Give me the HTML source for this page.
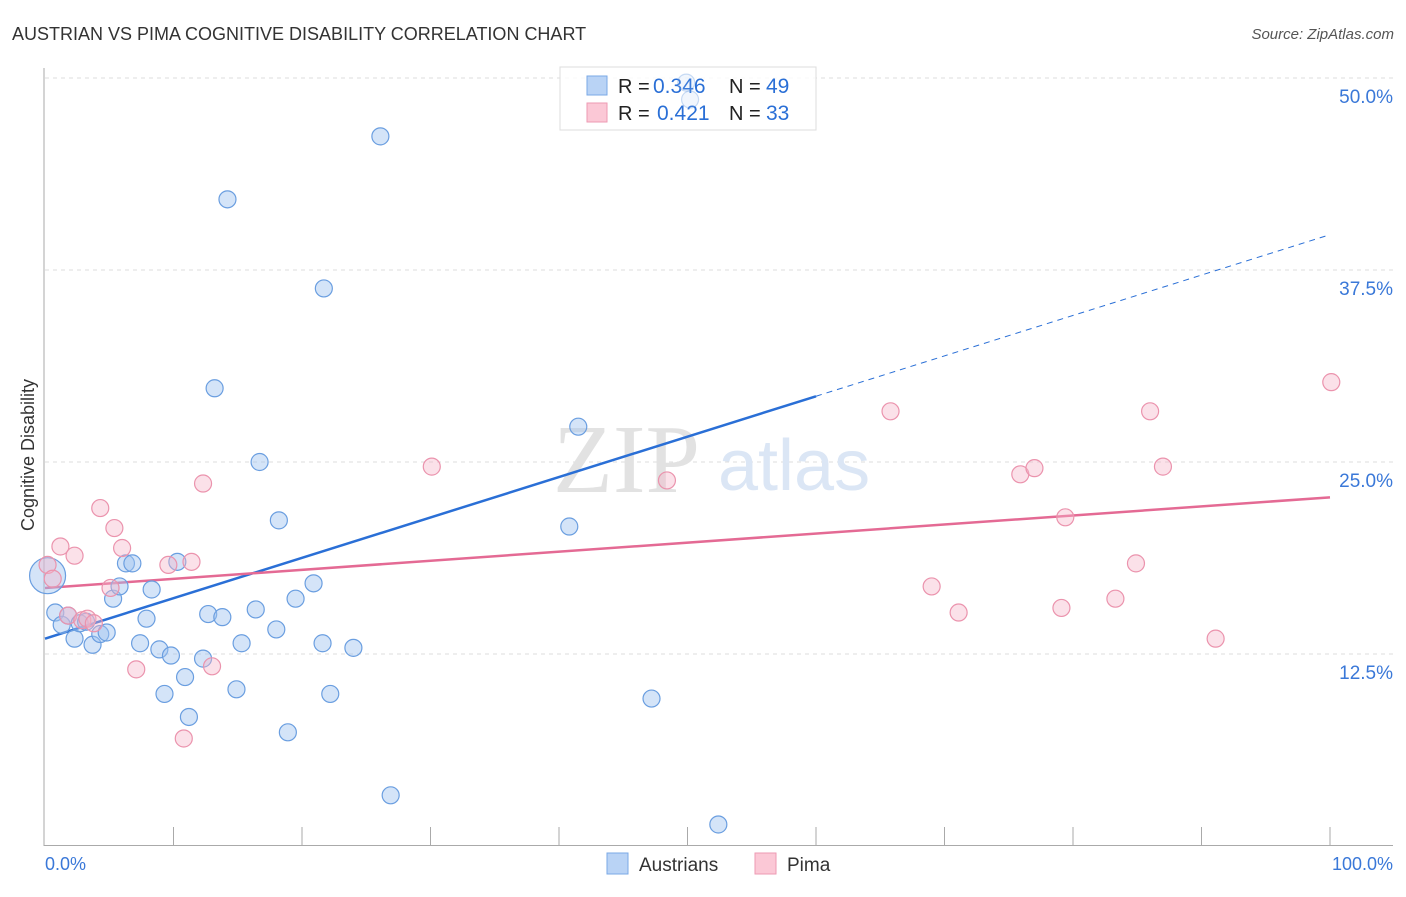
<!DOCTYPE html>
<html><head><meta charset="utf-8"><style>
body{margin:0;background:#fff;font-family:"Liberation Sans",sans-serif}
</style></head><body>
<svg width="1406" height="892" xmlns="http://www.w3.org/2000/svg">
<text x="12" y="40" font-size="18" fill="#333">AUSTRIAN VS PIMA COGNITIVE DISABILITY CORRELATION CHART</text>
<text x="1394" y="39" font-size="15" fill="#555" font-style="italic" text-anchor="end">Source: ZipAtlas.com</text>
<g id="grid"></g>
<text x="553" y="492" font-size="98" fill="#e2e2e2" font-family="Liberation Serif,serif">ZIP</text>
<text x="718" y="490" font-size="72" fill="#dbe6f5">atlas</text>
<g id="axes"></g>
<g id="trends"></g>
<g>
<rect x="560" y="67" width="256" height="63" fill="#fff" fill-opacity="0.85" stroke="#ddd"/>
<rect x="587" y="76" width="20" height="19" fill="#b9d3f5" stroke="#7aa8e6"/>
<rect x="587" y="103" width="20" height="19" fill="#fbc8d6" stroke="#ee9ab3"/>
<text x="618" y="93" font-size="20" fill="#222">R =</text>
<text x="653" y="93" font-size="21" fill="#2a6fd6">0.346</text>
<text x="729" y="93" font-size="20" fill="#222">N =</text>
<text x="766" y="93" font-size="21" fill="#2a6fd6">49</text>
<text x="618" y="120" font-size="20" fill="#222">R =</text>
<text x="657" y="120" font-size="21" fill="#2a6fd6">0.421</text>
<text x="729" y="120" font-size="20" fill="#222">N =</text>
<text x="766" y="120" font-size="21" fill="#2a6fd6">33</text>
</g>
<g id="pts"></g>
<text x="-455" y="34" transform="rotate(-90)" font-size="18" fill="#333" text-anchor="middle">Cognitive Disability</text>
<g>
<rect x="607" y="853" width="21" height="21" fill="#b9d3f5" stroke="#7aa8e6"/>
<text x="639" y="871" font-size="19" fill="#333">Austrians</text>
<rect x="755" y="853" width="21" height="21" fill="#fbc8d6" stroke="#ee9ab3"/>
<text x="787" y="871" font-size="19" fill="#333">Pima</text>
</g>
</svg>
<script>
const austX=[0.2,0.8,1.3,1.8,2.3,2.7,3.7,4.3,4.8,5.3,5.8,6.3,6.8,7.4,7.9,8.3,8.9,9.3,9.8,10.3,10.9,11.2,12.3,12.7,13.2,13.8,14.2,14.9,15.3,16.4,16.7,18.0,18.2,18.9,19.5,20.9,21.6,21.7,22.2,24.0,26.1,26.9,40.8,41.5,47.2,49.9,50.2,52.4,3.2];
const austY=[17.6,15.2,14.4,15.0,13.5,14.5,13.1,13.8,13.9,16.1,16.9,18.4,18.4,13.2,14.8,16.7,12.8,9.9,12.4,18.5,11.0,8.4,12.2,15.1,29.8,14.9,42.1,10.2,13.2,15.4,25.0,14.1,21.2,7.4,16.1,17.1,13.2,36.3,9.9,12.9,46.2,3.3,20.8,27.3,9.6,49.7,48.6,1.4,14.6];
const pimaX=[0.2,0.6,1.2,1.8,2.3,2.9,3.3,3.8,4.3,5.1,5.4,6.0,7.1,9.6,10.8,11.4,12.3,13.0,30.1,48.4,65.8,69.0,71.1,75.9,77.0,79.1,79.4,83.3,84.9,86.0,87.0,91.1,100.1];
const pimaY=[18.3,17.4,19.5,15.0,18.9,14.7,14.8,14.5,22.0,16.8,20.7,19.4,11.5,18.3,7.0,18.5,23.6,11.7,24.7,23.8,28.3,16.9,15.2,24.2,24.6,15.5,21.4,16.1,18.4,28.3,24.7,13.5,30.2];
const yTicks=[12.5,25,37.5,50];
const yTickLabels=["12.5%","25.0%","37.5%","50.0%"];
const austTrend=[13.5,39.8];
const pimaTrend=[16.8,22.7];
const NS="http://www.w3.org/2000/svg";
const sx=v=>45+v*12.85, sy=v=>846-v*15.36;
function mk(t,a,p){const e=document.createElementNS(NS,t);for(const k in a)e.setAttribute(k,a[k]);p.appendChild(e);return e;}
const grid=document.getElementById('grid'),axes=document.getElementById('axes');
yTicks.forEach((t,i)=>{
 const l=mk('line',{x1:45,x2:1393,y1:sy(t),y2:sy(t),stroke:'#ddd','stroke-dasharray':'4,4'},grid);
 
 
 const tx=mk('text',{x:1393,y:sy(t)+25,'font-size':19,fill:'#3a78d8','text-anchor':'end'},axes);
 tx.textContent=yTickLabels[i];
 
 
});
let a=mk('line',{x1:44,x2:44,y1:68,y2:846,stroke:'#aaa'},axes);


a=mk('line',{x1:44,x2:1393,y1:845.5,y2:845.5,stroke:'#aaa'},axes);


for(let k=1;k<=10;k++){const t=mk('line',{x1:sx(k*10),x2:sx(k*10),y1:827,y2:846,stroke:'#aaa'},axes);
 
 }
let t0=mk('text',{x:45,y:870,'font-size':18,fill:'#3a78d8'},axes);t0.textContent='0.0%';


t0=mk('text',{x:1393,y:870,'font-size':18,fill:'#3a78d8','text-anchor':'end'},axes);t0.textContent='100.0%';


const pts=document.getElementById('pts');
austX.forEach((x,i)=>{const c=mk('circle',{cx:sx(x),cy:sy(austY[i]),r:i==0?18:8.5,fill:'rgba(160,196,240,0.45)',stroke:'#6a9ee0','stroke-width':1.2},pts);
 if(austY[i]>47){c.setAttribute('fill','rgba(160,196,240,0.15)');c.setAttribute('stroke','rgba(106,158,224,0.35)');}
 
 });
pimaX.forEach((x,i)=>{const c=mk('circle',{cx:sx(x),cy:sy(pimaY[i]),r:8.5,fill:'rgba(245,180,200,0.4)',stroke:'#eb93ad','stroke-width':1.2},pts);
 
 });
const tr=document.getElementById('trends');
const ay=x=>austTrend[0]+(austTrend[1]-austTrend[0])*x/100;
let l=mk('line',{x1:sx(0),y1:sy(ay(0)),x2:sx(60),y2:sy(ay(60)),stroke:'#2a6fd6','stroke-width':2.5},tr);


l=mk('line',{x1:sx(60),y1:sy(ay(60)),x2:sx(100),y2:sy(ay(100)),stroke:'#2a6fd6','stroke-width':1,'stroke-dasharray':'6,5'},tr);


l=mk('line',{x1:sx(0),y1:sy(pimaTrend[0]),x2:sx(100),y2:sy(pimaTrend[1]),stroke:'#e46a94','stroke-width':2.5},tr);


</script>
</body></html>
